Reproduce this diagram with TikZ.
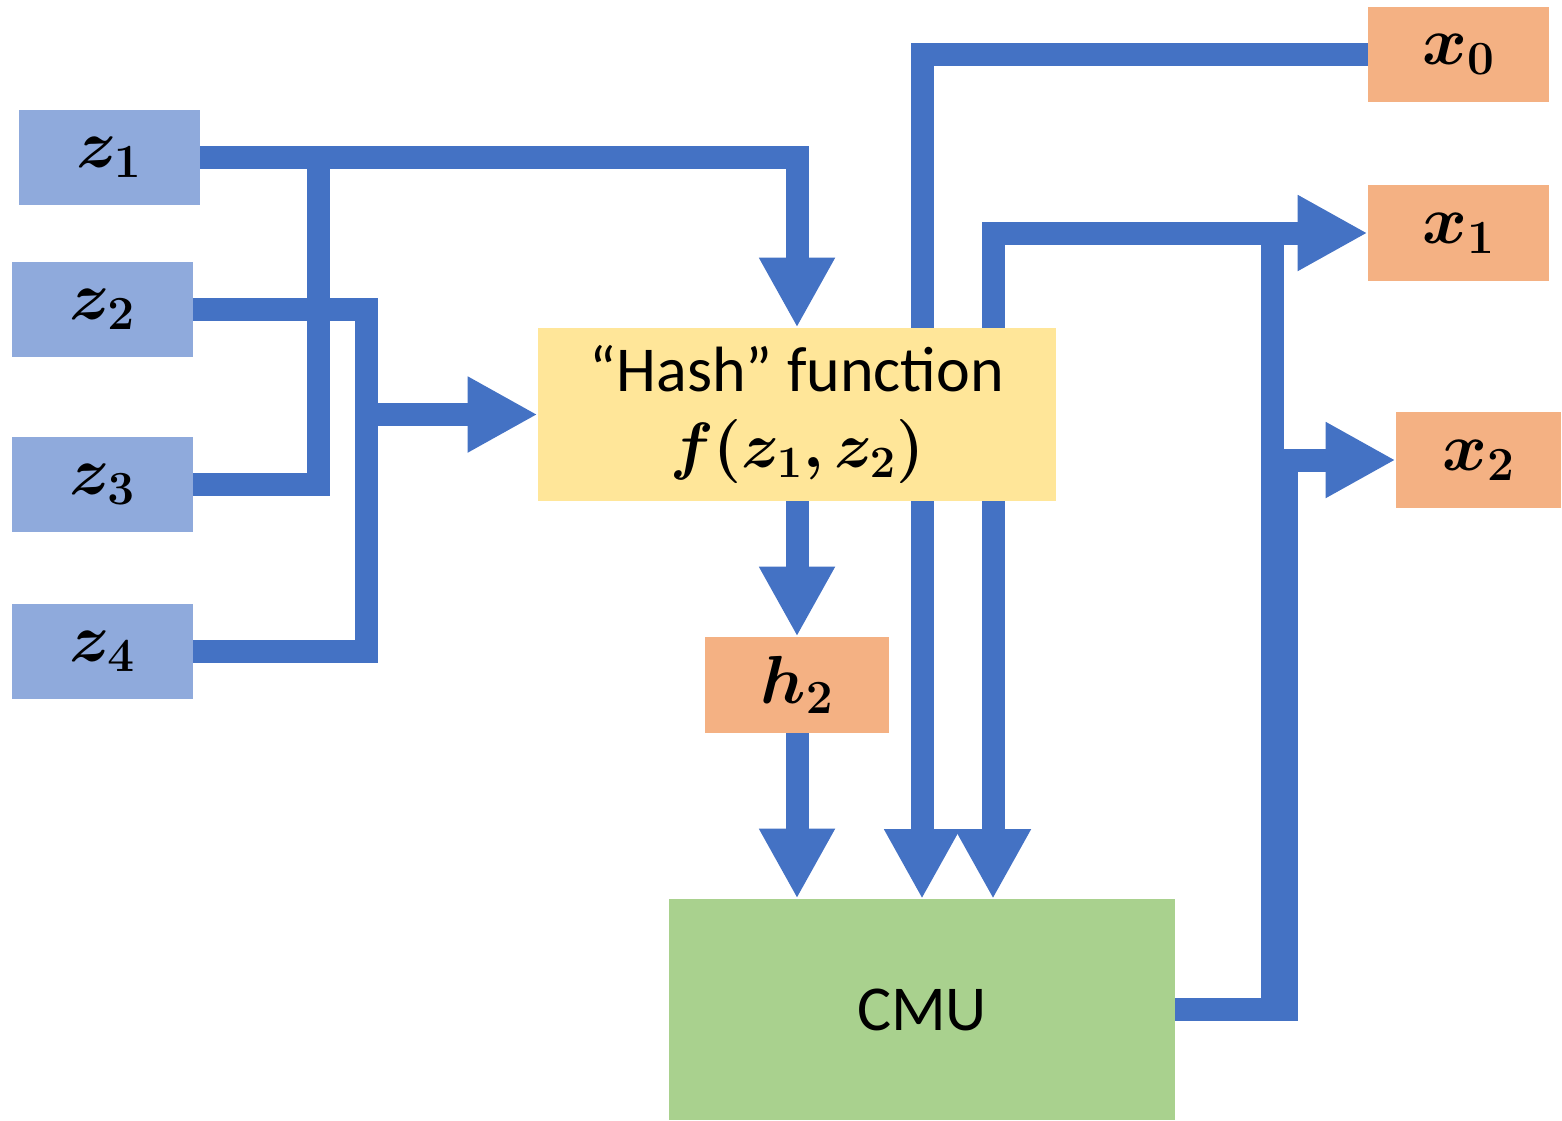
\RequirePackage{fix-cm}
\documentclass[tikz,border=0pt]{standalone}
\usepackage[no-math]{fontspec}
\usepackage{amsmath,bm}
\usepackage{tikz}
\usetikzlibrary{arrows.meta,backgrounds}
\newfontfamily\calibri{Carlito}
\definecolor{inblue}{HTML}{8FAADC}
\definecolor{hashyellow}{HTML}{FFE699}
\definecolor{outorange}{HTML}{F4B183}
\definecolor{cmugreen}{HTML}{A9D18E}
\definecolor{wire}{HTML}{4472C4}

\begin{document}
\begin{tikzpicture}[x=0.5pt, y=-0.5pt, >={Triangle[length=35pt, width=35.5pt]},
  box/.style={inner sep=0pt, minimum width=90.5pt, minimum height=47.5pt, font=\fontsize{34}{40}\selectfont},
  pipe/.style={draw=wire, line width=11.5pt},
  flow/.style={pipe, ->}]
  \useasboundingbox (0,0) rectangle (1562,1120);

  % Inputs
  \node[box, fill=inblue] (z1) at (109,157.5) {$\bm{z_1}$};
  \node[box, fill=inblue] (z2) at (102.5,309.5) {$\bm{z_2}$};
  \node[box, fill=inblue] (z3) at (102.5,484.5) {$\bm{z_3}$};
  \node[box, fill=inblue] (z4) at (102.5,651.5) {$\bm{z_4}$};

  % Hash, h2 and CMU
  \node[box, fill=hashyellow, minimum width=259pt, minimum height=86.5pt, align=center,
        font=\calibri\fontsize{32}{38}\selectfont] (hash) at (797,414.5) {“Hash” function\\ $\bm{f(z_1,z_2)}$};
  \node[box, fill=outorange, minimum width=92pt, minimum height=48pt] (h2) at (797,685) {$\bm{h_2}$};
  \node[box, fill=cmugreen, minimum width=253pt, minimum height=110.5pt,
        font=\calibri\fontsize{32}{38}\selectfont] (cmu) at (922,1009.5) {CMU};

  % Outputs
  \node[box, fill=outorange] (x0) at (1458.5,54.5) {$\bm{x_0}$};
  \node[box, fill=outorange, minimum height=48pt] (x1) at (1458.5,233) {$\bm{x_1}$};
  \node[box, fill=outorange, minimum width=82.5pt, minimum height=48pt] (x2) at (1478.5,460) {$\bm{x_2}$};

  % Junctions
  \coordinate (tapA) at (318,157.5);
  \coordinate (tapB) at (366,309.5);
  \coordinate (inx0) at (922,899);
  \coordinate (inx1) at (993,899);
  \coordinate (outx1) at (1272,233);
  \coordinate (outx2) at (1286,460);

  \begin{scope}[on background layer]
    % z1, z3 -> hash
    \draw[flow] (z1.east) -| (hash.north);
    \draw[pipe] (z3.east) -| (tapA);
    % z2, z4 -> hash
    \draw[pipe] (z2.east) -- (tapB) |- (z4.east);
    \draw[flow] (tapB |- hash.west) -- (hash.west);
    % hash -> h2 -> CMU
    \draw[flow] (hash.south) -- (h2.north);
    \draw[flow] (h2.south) -- (h2.south |- cmu.north);
    % feedback
    \draw[flow] (x0.west) -| (inx0);
    \draw[flow, <->] (inx1) |- (x1.west);
    % CMU -> outputs
    \draw[pipe] (cmu.east) -| (outx1);
    \draw[flow] (cmu.east) -| (outx2) -- (x2.west);
  \end{scope}
\end{tikzpicture}
\end{document}
